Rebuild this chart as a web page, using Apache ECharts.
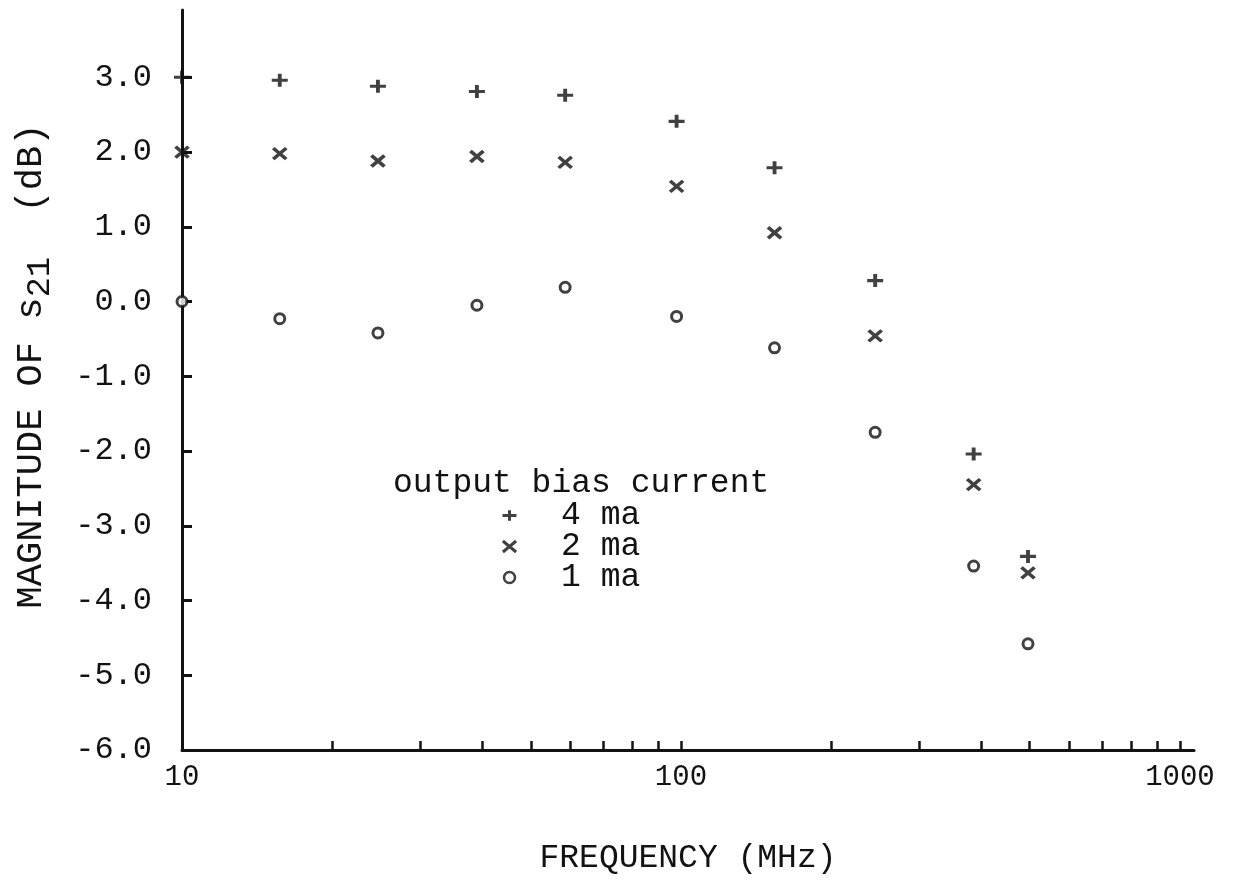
<!DOCTYPE html>
<html>
<head>
<meta charset="utf-8">
<script src="https://cdn.jsdelivr.net/npm/echarts@6/dist/echarts.min.js"></script>
<style>
  html, body { margin: 0; padding: 0; background: #ffffff; }
  #chart { width: 1242px; height: 892px; }
</style>
</head>
<body>
<div id="chart"></div>
<script>
// Measurement frequencies (MHz), one per column of points
const freqs = [10, 15.7, 24.7, 39, 58.6, 98, 154, 245, 386, 496];

// Magnitude of S21 (dB) for each output bias current
const bias4ma = [3.0, 2.96, 2.88, 2.81, 2.76, 2.41, 1.79, 0.28, -2.04, -3.41];
const bias2ma = [2.0, 1.98, 1.88, 1.94, 1.86, 1.54, 0.92, -0.46, -2.45, -3.63];
const bias1ma = [0.0, -0.23, -0.42, -0.05, 0.19, -0.20, -0.62, -1.75, -3.54, -4.58];

const seriesNames = ['4 ma', '2 ma', '1 ma'];
const legendHeader = 'output bias current';

// Axis tick positions and labels
const xLabelValues = [10, 100, 1000];
const xTickValues = [20, 30, 40, 50, 60, 70, 80, 90, 100, 200, 300, 400, 500, 600, 700, 800, 900, 1000];
const yTickValues = [-6, -5, -4, -3, -2, -1, 0, 1, 2, 3];

const INK = '#121212';
const FONT = '"Liberation Mono", "DejaVu Sans Mono", monospace';

const pairs = vals => freqs.map((f, i) => [f, vals[i]]);

const plusPath = 'path://M0,6L16,6M8,0L8,12';
const crossPath = 'path://M0,0L12,10M12,0L0,10';

const chart = echarts.init(document.getElementById('chart'));
chart.setOption({
  backgroundColor: '#ffffff',
  animation: false,
  textStyle: { fontFamily: FONT, color: INK },
  grid: { left: 182, right: 48, top: 10, bottom: 142, containLabel: false, outerBoundsMode: 'none' },
  title: {
    text: legendHeader,
    left: 388,
    top: 461,
    textStyle: { fontFamily: FONT, fontSize: 33, fontWeight: 'normal', color: INK, lineHeight: 34 }
  },
  legend: {
    orient: 'vertical',
    left: 500,
    top: 499,
    padding: 0,
    itemWidth: 14,
    itemHeight: 11,
    itemGap: -2,
    data: [
      { name: seriesNames[0], itemStyle: { borderWidth: 3 } },
      { name: seriesNames[1], itemStyle: { borderWidth: 3 } },
      { name: seriesNames[2], itemStyle: { borderWidth: 2.5 } }
    ],
    formatter: name => '  ' + name,
    textStyle: { fontFamily: FONT, fontSize: 33, color: INK }
  },
  xAxis: {
    type: 'log',
    logBase: 10,
    min: 10,
    max: 1067,
    name: 'FREQUENCY (MHz)',
    nameLocation: 'middle',
    nameGap: 92,
    nameTextStyle: { fontFamily: FONT, fontSize: 33, color: INK },
    axisLine: { onZero: false, lineStyle: { color: INK, width: 3 } },
    axisTick: { inside: true, length: 9, lineStyle: { color: INK, width: 2.5 }, customValues: xTickValues },
    axisLabel: { fontFamily: FONT, fontSize: 29, color: INK, margin: 13, customValues: xLabelValues, formatter: v => String(Math.round(v)) },
    splitLine: { show: false },
    minorTick: { show: false }
  },
  yAxis: {
    type: 'value',
    min: -6,
    max: 3.9,
    interval: 1,
    name: '{t|MAGNITUDE OF s}{sub|21}{t|  (dB)}',
    nameLocation: 'middle',
    nameRotate: 90,
    nameGap: 128,
    nameTextStyle: {
      padding: [0, 0, 0, 28],
      rich: {
        t: { fontFamily: FONT, fontSize: 37, color: INK, lineHeight: 46, verticalAlign: 'middle' },
        sub: { fontFamily: FONT, fontSize: 34, color: INK, lineHeight: 46, padding: [18, 0, 0, 0] }
      }
    },
    axisLine: { onZero: false, lineStyle: { color: INK, width: 3 } },
    axisTick: { inside: true, length: 10, lineStyle: { color: INK, width: 3 }, customValues: yTickValues },
    axisLabel: { fontFamily: FONT, fontSize: 32, color: INK, margin: 30, customValues: yTickValues, formatter: v => v.toFixed(1) },
    splitLine: { show: false }
  },
  series: [
    {
      name: seriesNames[0],
      type: 'scatter',
      data: pairs(bias4ma),
      symbol: plusPath,
      symbolSize: [16, 13],
      itemStyle: { color: 'none', borderColor: INK, borderWidth: 3.5 }
    },
    {
      name: seriesNames[1],
      type: 'scatter',
      data: pairs(bias2ma),
      symbol: crossPath,
      symbolSize: [13, 11],
      itemStyle: { color: 'none', borderColor: INK, borderWidth: 3.5 }
    },
    {
      name: seriesNames[2],
      type: 'scatter',
      data: pairs(bias1ma),
      symbol: 'circle',
      symbolSize: 10,
      itemStyle: { color: '#ffffff', borderColor: INK, borderWidth: 3 }
    }
  ]
});
</script>
</body>
</html>
